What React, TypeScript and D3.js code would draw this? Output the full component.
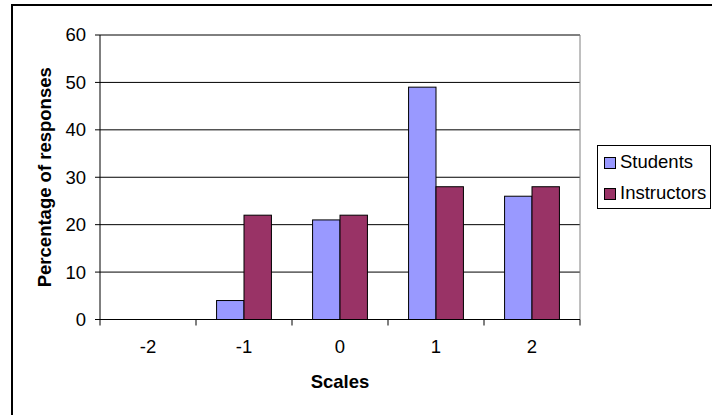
import React from "react";
import * as d3 from "d3";

const scales = ["-2", "-1", "0", "1", "2"];
const seriesNames = ["Students", "Instructors"];
const students = [0, 4, 21, 49, 26];
const instructors = [0, 22, 22, 28, 28];
const yTicks = [0, 10, 20, 30, 40, 50, 60];
const colors = ["#9999FF", "#993366"];

const W = 712;
const H = 415;
const plot = { left: 100, top: 35, right: 580, bottom: 319.5 };
const FONT = "Arial, 'Liberation Sans', Helvetica, sans-serif";
const FS = 18.5;

export default function App() {
  const x = d3
    .scaleBand<string>()
    .domain(scales)
    .range([plot.left, plot.right])
    .paddingInner(0)
    .paddingOuter(0);
  const y = d3.scaleLinear().domain([0, 60]).range([plot.bottom, plot.top]);
  // two bars per category with a gap of 1.5 bar widths
  const bw = x.bandwidth() / 3.5;
  const values = [students, instructors];

  return (
    <svg
      width={W}
      height={H}
      style={{ position: "absolute", left: 0, top: 0, background: "#fff" }}
      fontFamily={FONT}
    >
      <rect x={0} y={0} width={W} height={H} fill="#fff" />
      <rect x={12} y={5} width={W + 20} height={H + 20} fill="#fff" stroke="#000" strokeWidth={2} />

      {/* gridlines */}
      {yTicks.map((t) => (
        <line key={"g" + t} x1={plot.left} x2={plot.right} y1={y(t)} y2={y(t)} stroke="#000" strokeWidth={1} />
      ))}
      {/* plot area frame */}
      <line x1={plot.left} x2={plot.right} y1={plot.top} y2={plot.top} stroke="#808080" strokeWidth={1} />
      <line x1={plot.right} x2={plot.right} y1={plot.top} y2={plot.bottom} stroke="#808080" strokeWidth={1} />

      {/* bars */}
      {values.map((vals, si) =>
        vals.map((v, i) => {
          if (v <= 0) return null;
          const cx = (x(scales[i]) as number) + x.bandwidth() / 2;
          const x0 = cx - bw + si * bw;
          return (
            <rect
              key={si + "-" + i}
              x={x0}
              y={y(v)}
              width={bw}
              height={y(0) - y(v)}
              fill={colors[si]}
              stroke="#000"
              strokeWidth={1}
            />
          );
        })
      )}

      {/* y axis */}
      <line x1={plot.left} x2={plot.left} y1={plot.top} y2={plot.bottom} stroke="#000" strokeWidth={1} />
      {yTicks.map((t) => (
        <g key={"yt" + t}>
          <line x1={plot.left - 5} x2={plot.left} y1={y(t)} y2={y(t)} stroke="#000" />
          <text x={86} y={y(t)} dy="0.35em" textAnchor="end" fontSize={FS} fill="#000">
            {t}
          </text>
        </g>
      ))}

      {/* x axis */}
      <line x1={plot.left} x2={plot.right} y1={plot.bottom} y2={plot.bottom} stroke="#000" strokeWidth={1} />
      {[...scales.map((s) => x(s) as number), plot.right].map((p, i) => (
        <line key={"xt" + i} x1={p} x2={p} y1={plot.bottom} y2={plot.bottom + 6} stroke="#000" />
      ))}
      {scales.map((s) => (
        <text
          key={"xl" + s}
          x={(x(s) as number) + x.bandwidth() / 2}
          y={353}
          textAnchor="middle"
          fontSize={FS}
          fill="#000"
        >
          {s}
        </text>
      ))}

      {/* axis titles */}
      <text x={(plot.left + plot.right) / 2} y={388} textAnchor="middle" fontSize={FS} fontWeight="bold">
        Scales
      </text>
      <text
        transform={`translate(51,${(plot.top + plot.bottom) / 2}) rotate(-90)`}
        textAnchor="middle"
        fontSize={FS}
        fontWeight="bold"
      >
        Percentage of responses
      </text>

      {/* legend */}
      <rect x={597.5} y={145.5} width={113} height={63} fill="#fff" stroke="#000" strokeWidth={1} />
      {seriesNames.map((n, i) => (
        <g key={"lg" + n} transform={`translate(0,${i * 31})`}>
          <rect x={604.5} y={157.5} width={11} height={11} fill={colors[i]} stroke="#000" strokeWidth={1} />
          <text x={620} y={168} fontSize={FS} fill="#000">
            {n}
          </text>
        </g>
      ))}
    </svg>
  );
}
